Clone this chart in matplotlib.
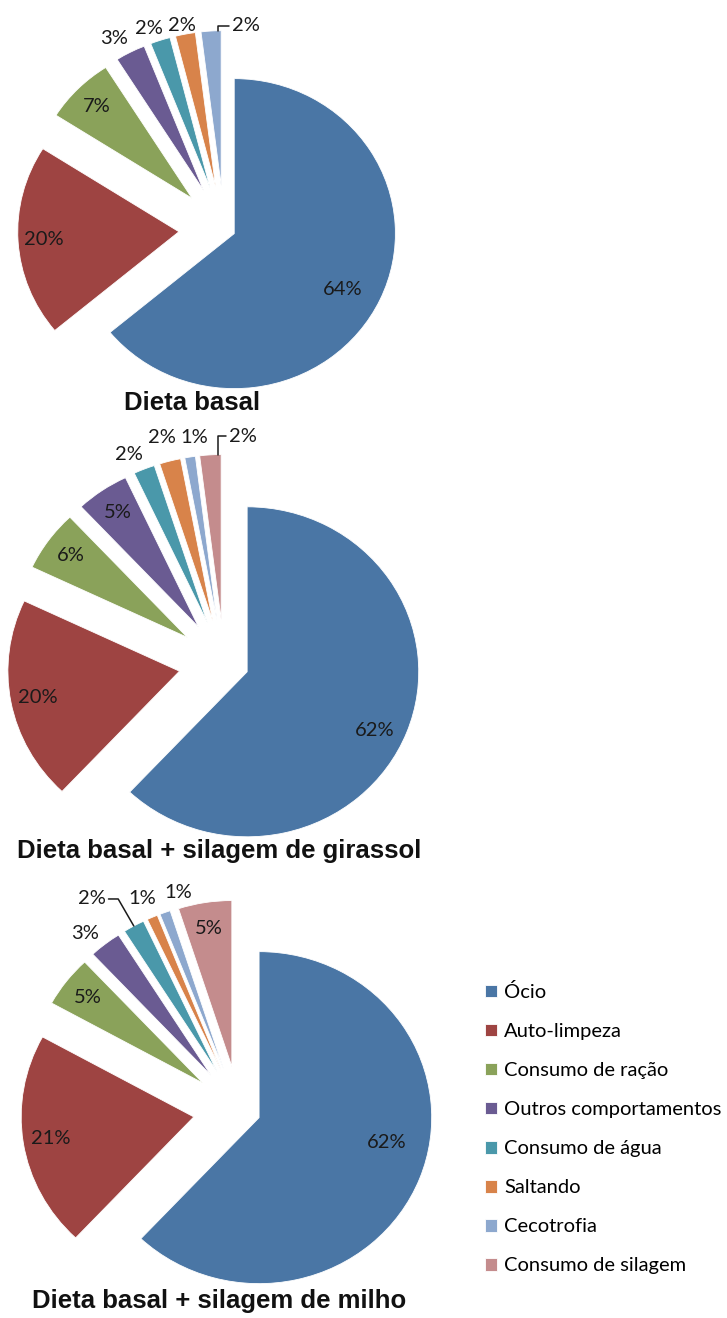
import numpy as np
import matplotlib
matplotlib.use('Agg')
import matplotlib.pyplot as plt

plt.rcParams['font.family'] = ['Lato', 'DejaVu Sans']

# Data
categories = ['Ócio', 'Auto-limpeza', 'Consumo de ração', 'Outros comportamentos',
              'Consumo de água', 'Saltando', 'Cecotrofia', 'Consumo de silagem']
colors = ['#4A76A5', '#9E4442', '#8AA25A', '#6A5B92',
          '#4A98AA', '#D8834A', '#8DA8CE', '#C48C8D']

basal = [64, 20, 7, 3, 2, 2, 2]
girassol = [62, 20, 6, 5, 2, 2, 1, 2]
milho = [62, 21, 5, 3, 2, 1, 1, 5]
titles = ['Dieta basal', 'Dieta basal + silagem de girassol',
          'Dieta basal + silagem de milho']

W, H = 727, 1318
L = 1.75
SX = 1.04  # the original pies are slightly stretched horizontally

# layout: pie centre / radius in pixels, explode, label placement (r, angle)
layout = [
    dict(c=(224, 229), r=155, e0=0.07, e=0.28,
         lab={0: (0.86, -27), 3: (1.42, 119.9), 4: (1.38, 110.6),
              5: (1.34, 101.6), 6: (1.32, 83.8)},
         leader={6: 90}, title=(192, 403)),
    dict(c=(224, 663), r=165, e0=0.145, e=0.264,
         lab={0: (1.0, -24), 4: (1.39, 114.4), 5: (1.42, 105.4),
              6: (1.38, 97.4), 7: (1.38, 85.3)},
         leader={7: 90}, title=(219, 851)),
    dict(c=(239, 1110), r=166, e0=0.125, e=0.265,
         lab={0: (0.91, -12.5), 3: (1.41, 131.2), 4: (1.55, 124.9),
              5: (1.40, 114.5), 6: (1.36, 105.7)},
         leader={4: 120}, title=(219, 1301)),
]

fig = plt.figure(figsize=(W / 100, H / 100), dpi=100)

def u(deg):
    t = np.radians(deg)
    return np.array([np.cos(t), np.sin(t)])

wedges_last = None
for values, lay, title in zip([basal, girassol, milho], layout, titles):
    cx, cy = lay['c']
    r = lay['r']
    ax = fig.add_axes([(cx - L * r * SX) / W, 1 - (cy + L * r) / H,
                       2 * L * r * SX / W, 2 * L * r / H])
    n = len(values)
    explode = [lay['e0']] + [lay['e']] * (n - 1)
    wedges, _ = ax.pie(values, explode=explode, startangle=90, counterclock=False,
                       colors=colors[:n], radius=1,
                       wedgeprops=dict(edgecolor='white', linewidth=0.6))
    ax.set_aspect('auto')
    ax.set_xlim(-L, L)
    ax.set_ylim(-L, L)
    ax.axis('off')

    for i, (w, v) in enumerate(zip(wedges, values)):
        mid = (w.theta1 + w.theta2) / 2
        if i in lay['lab']:
            rr, th = lay['lab'][i]
            pos = rr * u(th) * np.array([1 / SX, 1])
        else:
            pos = (explode[i] + 0.84) * u(mid)
        txt = f'{v}%'
        if i in lay['leader']:
            span = w.theta2 - w.theta1
            ang = mid - 0.35 * span if lay['leader'][i] == 90 else mid
            anchor = explode[i] * u(mid) + 1.0 * u(ang)
            ax.annotate(txt, xy=anchor, xytext=pos, ha='center', va='center',
                        fontsize=14.5, color='#1a1a1a',
                        arrowprops=dict(arrowstyle='-', color='#1a1a1a', lw=1.1,
                                        shrinkA=0, shrinkB=0,
                                        connectionstyle=f'angle,angleA=0,angleB={lay["leader"][i]},rad=0'))
        else:
            ax.text(pos[0], pos[1], txt, ha='center', va='center',
                    fontsize=14.5, color='#1a1a1a')

    tx, ty = lay['title']
    fig.text(tx / W, 1 - ty / H, title, ha='center', va='center',
             fontsize=18.5, fontweight='bold', family='Liberation Sans', color='#111111')
    wedges_last = wedges

fig.legend(handles=wedges_last, labels=categories, loc='upper left',
           bbox_to_anchor=(485 / W, 1 - 983 / H), frameon=False, fontsize=14.5,
           handlelength=0.6, handleheight=0.6, handletextpad=0.35,
           labelspacing=1.095, borderaxespad=0, borderpad=0)

fig.savefig('out.png', dpi=100)
